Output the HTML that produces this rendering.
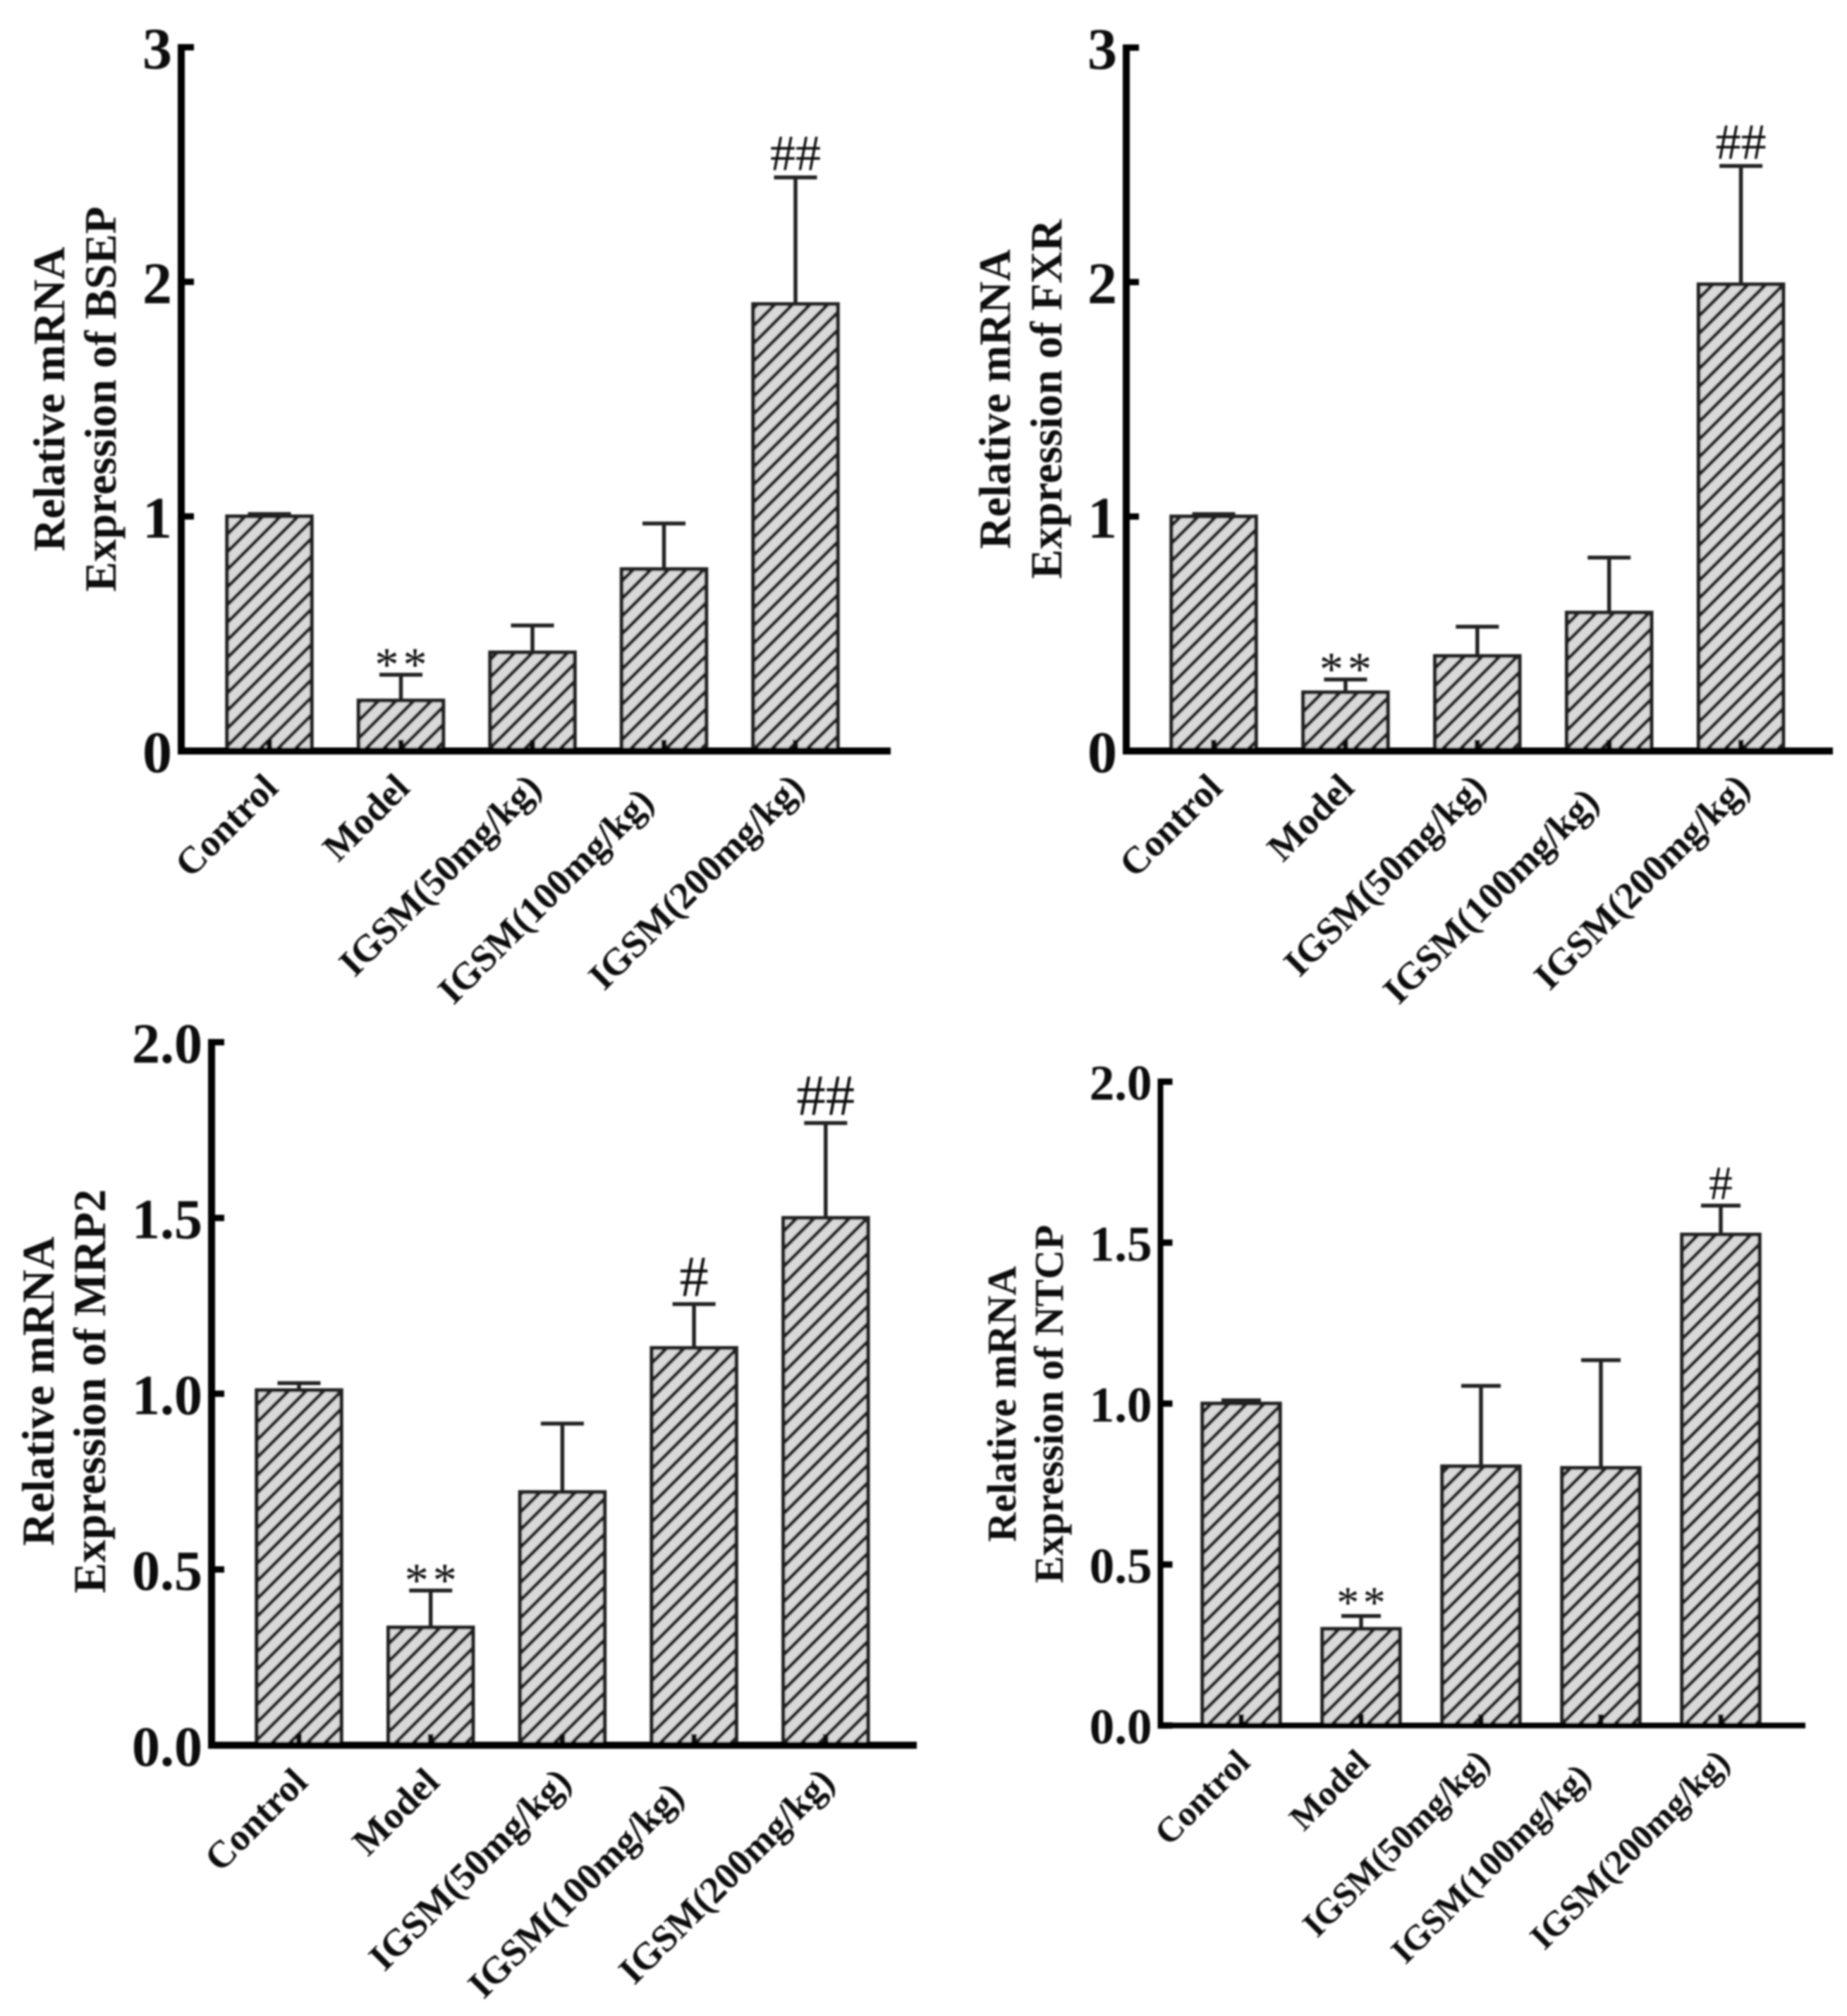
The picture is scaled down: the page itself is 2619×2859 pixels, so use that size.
<!DOCTYPE html>
<html>
<head>
<meta charset="utf-8">
<title>Relative mRNA expression</title>
<style>
html,body{margin:0;padding:0;background:#fff;}
svg{display:block;}
text{font-family:"Liberation Serif","Times New Roman",serif;fill:#111;}
</style>
</head>
<body>
<svg id="figure" xmlns="http://www.w3.org/2000/svg" width="2619" height="2859" viewBox="0 0 2619 2859">
<defs>
<pattern id="hatch" patternUnits="userSpaceOnUse" width="17.7" height="17.7" patternTransform="rotate(45)">
<rect width="17.7" height="17.7" fill="#d9d9d9"></rect>
<rect width="5.2" height="17.7" fill="#222"></rect>
</pattern>
<filter id="soft" x="-2%" y="-2%" width="104%" height="104%"><feGaussianBlur stdDeviation="1.2"></feGaussianBlur></filter>
</defs>
<g id="root" filter="url(#soft)"></g>
</svg>
<script>
const categories = ['Control', 'Model', 'IGSM(50mg/kg)', 'IGSM(100mg/kg)', 'IGSM(200mg/kg)'];

const bsepMeans = [1.0, 0.215, 0.42, 0.775, 1.905];
const bsepUpper = [1.01, 0.325, 0.535, 0.97, 2.445];
const bsepMarks = ['', '**', '', '', '##'];
const bsepTicks = ['0', '1', '2', '3'];

const fxrMeans = [1.0, 0.25, 0.405, 0.59, 1.99];
const fxrUpper = [1.01, 0.305, 0.53, 0.825, 2.495];
const fxrMarks = ['', '**', '', '', '##'];
const fxrTicks = ['0', '1', '2', '3'];

const mrp2Means = [1.01, 0.335, 0.72, 1.13, 1.5];
const mrp2Upper = [1.03, 0.44, 0.915, 1.255, 1.77];
const mrp2Marks = ['', '**', '', '#', '##'];
const mrp2Ticks = ['0.0', '0.5', '1.0', '1.5', '2.0'];

const ntcpMeans = [1.0, 0.3, 0.805, 0.8, 1.525];
const ntcpUpper = [1.01, 0.34, 1.055, 1.135, 1.615];
const ntcpMarks = ['', '**', '', '', '#'];
const ntcpTicks = ['0.0', '0.5', '1.0', '1.5', '2.0'];

const panels = [
  {id:'bsep', gene:'BSEP', means:bsepMeans, upper:bsepUpper, marks:bsepMarks, ticks:bsepTicks,
   axisX:257, axisW:10, top:67, zero:1065, end:1263, first:382, pitch:186.5, barW:120, capW:61,
   tickFont:84, titleFont:64, title1X:91, title2X:164, titleY:566, labelFont:54, scale:1, starScale:1, starDy:8},
  {id:'fxr', gene:'FXR', means:fxrMeans, upper:fxrUpper, marks:fxrMarks, ticks:fxrTicks,
   axisX:1597, axisW:10, top:67.5, zero:1065, end:2599, first:1721, pitch:186.9, barW:120, capW:61,
   tickFont:84, titleFont:63, title1X:1432, title2X:1505, titleY:566, labelFont:54, scale:1, starScale:1, starDy:8},
  {id:'mrp2', gene:'MRP2', means:mrp2Means, upper:mrp2Upper, marks:mrp2Marks, ticks:mrp2Ticks,
   axisX:300, axisW:10, top:1478, zero:2475, end:1300, first:424, pitch:186.7, barW:120, capW:61,
   tickFont:80, titleFont:65, title1X:76, title2X:149, titleY:1973, labelFont:54, scale:1.15, starScale:1, starDy:8},
  {id:'ntcp', gene:'NTCP', means:ntcpMeans, upper:ntcpUpper, marks:ntcpMarks, ticks:ntcpTicks,
   axisX:1645.5, axisW:8, top:1534, zero:2447, end:2560, first:1760, pitch:170, barW:110, capW:56,
   tickFont:71, titleFont:58, title1X:1440, title2X:1507, titleY:1991, labelFont:50, scale:0.94, starScale:0.94, starDy:2}
];

const NS = 'http://www.w3.org/2000/svg';
const root = document.getElementById('root');

function make(tag, attrs, parent) {
  const el = document.createElementNS(NS, tag);
  for (const k in attrs) el.setAttribute(k, attrs[k]);
  parent.appendChild(el);
  return el;
}

function drawPanel(p) {
  const g = make('g', {}, root);
  
  

  const maxValue = parseFloat(p.ticks[p.ticks.length - 1]);
  const yOf = v => p.zero - (v / maxValue) * (p.zero - p.top);
  const xOf = i => p.first + i * p.pitch;
  const axisLeft = p.axisX - p.axisW / 2;

  // bars
  p.means.forEach((m, i) => {
    const bar = make('rect', {x: xOf(i) - p.barW / 2, y: yOf(m), width: p.barW, height: p.zero - yOf(m),
      fill: 'url(#hatch)', stroke: '#222', 'stroke-width': 5.5}, g);
    
    

    const tick = make('rect', {x: xOf(i) - 4, y: p.zero - 16, width: 8, height: 16, fill: '#111'}, g);
    
    
  });

  // error bars
  p.upper.forEach((u, i) => {
    const stem = make('line', {x1: xOf(i), x2: xOf(i), y1: yOf(p.means[i]), y2: yOf(u), stroke: '#222', 'stroke-width': 5.5}, g);
    
    

    const cap = make('line', {x1: xOf(i) - p.capW / 2, x2: xOf(i) + p.capW / 2, y1: yOf(u), y2: yOf(u), stroke: '#222', 'stroke-width': 5.5}, g);
    
    
  });

  // significance marks
  p.marks.forEach((s, i) => {
    if (!s) return;
    const star = s[0] === '*';
    const k = star ? p.starScale : p.scale;
    const size = (star ? 68 : 72) * k;
    const t = make('text', {
      x: xOf(i) + (star ? 3 * k : 0),
      y: yOf(p.upper[i]) + (star ? p.starDy : -10 * k),
      'text-anchor': 'middle',
      'font-size': size,
      'letter-spacing': star ? 6 * k : 0,
      fill: '#222'
    }, g);
    t.textContent = s;
    
    
  });

  // axes
  const yAxis = make('rect', {x: axisLeft, y: p.top - 4.5, width: p.axisW, height: p.zero - p.top + 4.5 + p.axisW / 2, fill: '#000'}, g);
  
  

  const xAxis = make('rect', {x: axisLeft, y: p.zero - p.axisW / 2, width: p.end - axisLeft, height: p.axisW, fill: '#000'}, g);
  
  

  // y ticks and labels
  p.ticks.forEach(label => {
    const v = parseFloat(label);
    const tm = make('rect', {x: axisLeft, y: yOf(v) - 4.5, width: p.axisW + 13, height: 9, fill: '#000'}, g);
    
    

    const t = make('text', {x: axisLeft - 8, y: yOf(v) + p.tickFont * 0.36, 'text-anchor': 'end',
      'font-size': p.tickFont, 'font-weight': 'bold'}, g);
    t.textContent = label;
    
    
  });

  // category labels (the 100 mg/kg label sits visibly lower-left in the source figure)
  categories.forEach((c, i) => {
    const shifted = i === 3;
    const lx = xOf(i) + (shifted ? -12 : 15);
    const ly = p.zero + (shifted ? 75 : 55);
    const t = make('text', {x: lx, y: ly, 'text-anchor': 'end', 'font-size': p.labelFont, 'font-weight': 'bold',
      transform: 'rotate(-45 ' + lx + ' ' + ly + ')'}, g);
    t.textContent = c;
    
    
  });

  // axis title
  const t1 = make('text', {x: p.title1X, y: p.titleY, 'text-anchor': 'middle', 'font-size': p.titleFont, 'font-weight': 'bold',
    transform: 'rotate(-90 ' + p.title1X + ' ' + p.titleY + ')'}, g);
  t1.textContent = 'Relative mRNA';
  
  

  const t2 = make('text', {x: p.title2X, y: p.titleY, 'text-anchor': 'middle', 'font-size': p.titleFont, 'font-weight': 'bold',
    transform: 'rotate(-90 ' + p.title2X + ' ' + p.titleY + ')'}, g);
  t2.textContent = 'Expression of ' + p.gene;
  
  
}

panels.forEach(drawPanel);
</script>
</body>
</html>
